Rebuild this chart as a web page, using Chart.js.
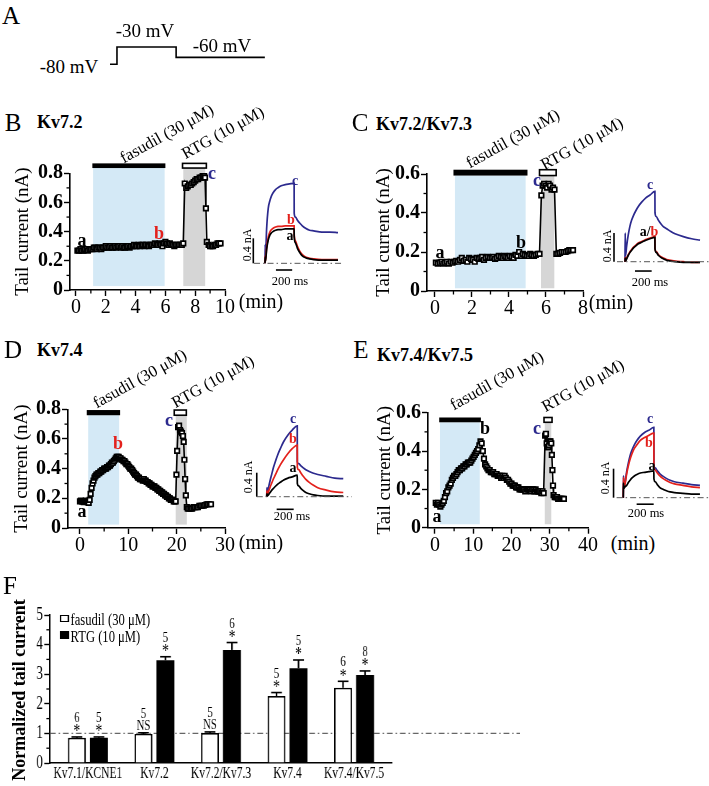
<!DOCTYPE html>
<html>
<head>
<meta charset="utf-8">
<script src="https://cdn.jsdelivr.net/npm/chart.js@4.4.1/dist/chart.umd.min.js"></script>
<style>
html,body{margin:0;padding:0;background:#fff;}
#page{position:relative;width:709px;height:786px;overflow:hidden;background:#fff;font-family:"Liberation Serif","Times New Roman",serif;color:#000;}
#page canvas{position:absolute;}
.t{position:absolute;white-space:nowrap;line-height:1;}
</style>
</head>
<body>
<div id="page"></div>
<script>
// ================= DATA =================
// Panel A: voltage protocol
const protoTime = [0, 20, 20, 190, 190, 445];
const protoVolt = [-80, -80, -30, -30, -60, -60];

// Panel B: Kv7.2 time course (min, nA)
const timeB = [
 0.1,0.2,0.3,0.4,0.5,0.6,0.7,0.8,0.9,1.0,
 1.1,1.2,1.3,1.4,1.5,1.6,1.7,1.8,1.9,2.0,
 2.1,2.2,2.3,2.4,2.5,2.6,2.7,2.8,2.9,3.0,
 3.1,3.2,3.3,3.4,3.5,3.6,3.7,3.8,3.9,4.0,
 4.1,4.2,4.3,4.4,4.5,4.6,4.7,4.8,4.9,5.0,
 5.1,5.2,5.3,5.4,5.5,5.6,5.7,5.8,5.9,6.0,
 6.1,6.2,6.3,6.4,6.5,6.6,6.7,6.8,6.9,7.0,
 7.1,7.2,
 7.3,7.4,7.5,7.6,7.7,7.8,7.9,8.0,8.1,8.2,
 8.3,8.4,8.5,8.6,8.66,8.72,8.78,8.9,9.0,9.1,
 9.2,9.3,9.4,9.5,9.6,9.7];
const currentB = [
 0.27,0.27,0.28,0.27,0.27,0.28,0.28,0.27,0.28,0.28,
 0.28,0.29,0.29,0.28,0.29,0.29,0.28,0.29,0.29,0.30,
 0.29,0.29,0.30,0.29,0.29,0.30,0.29,0.30,0.30,0.29,
 0.30,0.29,0.29,0.30,0.30,0.29,0.30,0.30,0.31,0.30,
 0.30,0.31,0.30,0.31,0.31,0.30,0.31,0.31,0.30,0.31,
 0.31,0.31,0.32,0.31,0.31,0.32,0.31,0.30,0.32,0.33,
 0.32,0.31,0.32,0.31,0.31,0.30,0.31,0.31,0.31,0.31,
 0.31,0.32,
 0.73,0.70,0.71,0.72,0.72,0.73,0.74,0.75,0.76,0.76,
 0.77,0.77,0.78,0.78,0.77,0.56,0.33,0.31,0.30,0.30,
 0.30,0.31,0.31,0.32,0.32,0.32];

// Panel C: Kv7.2/Kv7.3
const timeC = [
 0.05,0.15,0.25,0.35,0.45,0.55,0.65,0.75,0.85,0.95,
 1.05,1.15,1.25,1.35,1.45,1.55,1.65,1.75,1.85,1.95,
 2.05,2.15,2.25,2.35,2.45,2.55,2.65,2.75,2.85,2.95,
 3.05,3.15,3.25,3.35,3.45,3.55,3.65,3.75,3.85,3.95,
 4.05,4.15,4.25,4.35,4.45,4.55,4.65,4.75,4.85,4.95,
 5.05,5.15,5.25,5.35,5.45,5.55,5.65,
 5.75,5.82,5.9,5.98,6.06,6.14,6.22,6.3,6.38,6.46,
 6.56,6.66,6.76,6.86,6.96,7.06,7.16,7.26,7.36,7.46];
const currentC = [
 0.145,0.14,0.145,0.15,0.14,0.145,0.15,0.14,0.15,0.145,
 0.15,0.155,0.15,0.16,0.17,0.155,0.16,0.15,0.17,0.165,
 0.16,0.15,0.17,0.165,0.17,0.175,0.16,0.17,0.175,0.17,
 0.17,0.175,0.165,0.17,0.18,0.175,0.17,0.18,0.175,0.17,
 0.18,0.175,0.17,0.185,0.18,0.2,0.18,0.19,0.185,0.18,
 0.18,0.19,0.185,0.18,0.185,0.19,0.19,
 0.49,0.54,0.55,0.54,0.53,0.55,0.54,0.52,0.53,0.52,
 0.19,0.19,0.195,0.2,0.2,0.2,0.205,0.21,0.21,0.21];

// Panel D: Kv7.4
const timeD = [
 0.0,0.2,0.4,0.6,0.8,1.0,1.2,1.4,1.6,1.8,
 2.0,2.2,2.4,2.6,2.8,3.0,3.2,3.4,3.6,3.8,
 4.0,4.2,4.4,4.6,4.8,5.0,5.2,5.4,5.6,5.8,
 6.0,6.2,6.4,6.6,6.8,7.0,7.2,7.4,7.6,7.8,
 8.0,8.2,8.4,8.6,8.8,9.0,9.2,9.4,9.6,9.8,
 10.0,10.2,10.4,10.6,10.8,11.0,11.2,11.4,11.6,11.8,
 12.0,12.2,12.4,12.6,12.8,13.0,13.2,13.4,13.6,13.8,
 14.0,14.2,14.4,14.6,14.8,15.0,15.2,15.4,15.6,15.8,
 16.0,16.2,16.4,16.6,16.8,17.0,17.2,17.4,17.6,17.8,
 18.0,18.2,18.4,18.6,18.8,19.0,19.2,19.4,19.6,19.8,
 19.95,20.1,20.3,20.5,20.7,20.9,21.1,21.3,21.45,21.6,
 21.75,21.9,22.1,
 22.3,22.6,22.9,23.2,23.5,23.8,24.1,24.4,24.7,25.0,
 25.3,25.6,25.9,26.2,26.5,26.8,27.1];
const currentD = [
 0.18,0.185,0.18,0.18,0.175,0.18,0.185,0.18,0.175,0.17,
 0.19,0.23,0.27,0.30,0.32,0.34,0.35,0.36,0.36,0.37,
 0.37,0.38,0.38,0.39,0.39,0.40,0.40,0.40,0.41,0.41,
 0.42,0.42,0.43,0.44,0.44,0.45,0.46,0.47,0.48,0.48,
 0.48,0.47,0.47,0.46,0.46,0.45,0.45,0.44,0.43,0.43,
 0.42,0.41,0.40,0.40,0.39,0.38,0.37,0.36,0.36,0.35,
 0.34,0.34,0.33,0.33,0.33,0.32,0.33,0.32,0.32,0.31,
 0.31,0.30,0.30,0.29,0.29,0.28,0.28,0.28,0.27,0.27,
 0.26,0.26,0.25,0.25,0.24,0.24,0.23,0.23,0.22,0.22,
 0.21,0.21,0.20,0.20,0.19,0.19,0.19,0.18,0.18,0.18,
 0.36,0.52,0.68,0.69,0.66,0.65,0.64,0.62,0.58,0.46,
 0.33,0.22,0.14,
 0.13,0.13,0.13,0.13,0.14,0.14,0.14,0.14,0.15,0.15,
 0.15,0.15,0.155,0.16,0.16,0.16,0.16];

// Panel E: Kv7.4/Kv7.5
const timeE = [
 0.2,0.5,0.8,1.1,1.4,1.7,2.0,2.3,2.6,2.9,
 3.2,3.5,3.8,4.1,4.4,4.7,5.0,5.3,5.6,5.9,
 6.2,6.5,6.8,7.1,7.4,7.7,8.0,8.3,8.6,8.9,
 9.2,9.5,9.8,10.1,10.4,10.7,11.0,11.3,11.6,11.9,
 12.2,12.5,12.8,13.1,13.4,13.7,14.0,14.3,14.6,14.9,
 15.2,15.5,15.8,16.1,16.4,16.7,17.0,17.3,17.6,17.9,
 18.2,18.5,18.8,19.1,19.4,19.7,20.0,20.3,20.6,20.9,
 21.2,21.5,21.8,22.1,22.4,22.7,23.0,23.3,23.6,23.9,
 24.2,24.5,24.8,25.1,25.4,25.7,26.0,26.3,26.6,26.9,
 27.2,27.5,27.8,28.1,28.4,
 28.8,29.0,29.2,29.4,29.6,29.8,30.0,30.2,30.4,30.55,
 30.7,30.85,31.0,
 31.3,31.6,31.9,32.2,32.5,32.8,33.1,33.4,33.7];
const currentE = [
 0.13,0.12,0.13,0.12,0.11,0.12,0.13,0.14,0.16,0.18,
 0.19,0.21,0.22,0.23,0.25,0.26,0.27,0.27,0.28,0.29,
 0.30,0.30,0.31,0.31,0.32,0.32,0.33,0.33,0.34,0.34,
 0.34,0.35,0.36,0.37,0.38,0.39,0.40,0.41,0.43,0.45,
 0.44,0.40,0.36,0.33,0.32,0.31,0.30,0.30,0.29,0.29,
 0.29,0.28,0.28,0.28,0.27,0.27,0.27,0.26,0.27,0.26,
 0.27,0.26,0.25,0.25,0.24,0.23,0.23,0.22,0.22,0.22,
 0.21,0.21,0.21,0.20,0.20,0.20,0.20,0.20,0.19,0.20,
 0.20,0.20,0.20,0.19,0.20,0.20,0.19,0.20,0.19,0.19,
 0.19,0.19,0.18,0.19,0.18,
 0.48,0.49,0.44,0.42,0.42,0.43,0.45,0.45,0.44,0.38,
 0.30,0.22,0.17,
 0.16,0.16,0.16,0.15,0.15,0.15,0.15,0.15,0.15];

// Drug application periods (min)
const fasudilWinB = [1.15, 5.95], fasudilBarB = [1.1, 6.0], rtgWinB = [7.2, 8.67], rtgBarB = [7.15, 8.75];
const fasudilWinC = [1.08, 4.9], fasudilBarC = [1.0, 5.0], rtgWinC = [5.73, 6.45], rtgBarC = [5.65, 6.55];
const fasudilWinD = [1.7, 8.1], fasudilBarD = [1.4, 8.3], rtgWinD = [19.8, 22.1], rtgBarD = [19.5, 22.0];
const fasudilWinE = [1.3, 11.7], fasudilBarE = [1.1, 12.0], rtgWinE = [28.7, 30.4], rtgBarE = [28.5, 30.6];

// Tick labels
const xTicksB = [0,2,4,6,8,10], yTicksB = [0,0.2,0.4,0.6,0.8];
const xTicksC = [0,2,4,6,8], yTicksC = [0,0.2,0.4,0.6];
const xTicksD = [0,10,20,30], yTicksD = [0,0.2,0.4,0.6,0.8];
const xTicksE = [0,10,20,30,40], yTicksE = [0,0.2,0.4,0.6];

// Current traces (ms, nA)
const traceTime = [0,3,6,20,40,60,80,100,130,160,200,250,300,359,360,375,400,430,460,500,550,600,700,800,900];
const traceB_a = [0,0.10,0.03,0.22,0.37,0.45,0.49,0.51,0.53,0.54,0.54,0.55,0.55,0.55,0.43,0.33,0.24,0.17,0.12,0.09,0.07,0.06,0.05,0.05,0.05];
const traceB_b = [0,0.12,0.03,0.25,0.42,0.50,0.54,0.56,0.58,0.59,0.59,0.60,0.60,0.60,0.46,0.36,0.27,0.19,0.14,0.10,0.08,0.07,0.06,0.06,0.06];
const traceB_c = [0,0.30,0.10,0.55,0.88,1.00,1.08,1.13,1.18,1.21,1.24,1.26,1.27,1.28,0.80,0.74,0.69,0.64,0.60,0.56,0.53,0.52,0.50,0.50,0.49];
const traceC_a = [0,0.05,0.01,0.04,0.09,0.13,0.16,0.19,0.22,0.25,0.27,0.30,0.32,0.34,0.18,0.13,0.09,0.06,0.04,0.02,0.01,0.00,-0.01,-0.01,-0.01];
const traceC_b = [0,0.06,0.01,0.05,0.10,0.14,0.17,0.20,0.23,0.26,0.28,0.31,0.33,0.35,0.19,0.14,0.10,0.07,0.05,0.03,0.02,0.01,0.00,-0.01,-0.01];
const traceC_c = [0,0.40,0.08,0.22,0.38,0.50,0.58,0.64,0.71,0.77,0.83,0.89,0.93,0.98,0.68,0.63,0.58,0.53,0.49,0.46,0.42,0.39,0.35,0.32,0.30];
const traceD_a = [0,0.05,0.01,0.03,0.07,0.11,0.14,0.17,0.21,0.24,0.28,0.31,0.33,0.36,0.22,0.18,0.14,0.10,0.07,0.05,0.03,0.02,0.01,0.01,0.01];
const traceD_b = [0,0.10,0.02,0.08,0.16,0.23,0.30,0.36,0.45,0.53,0.62,0.72,0.80,0.86,0.49,0.45,0.40,0.34,0.29,0.24,0.19,0.15,0.11,0.08,0.07];
const traceD_c = [0,0.15,0.03,0.14,0.27,0.38,0.49,0.58,0.70,0.80,0.92,1.03,1.11,1.18,0.58,0.55,0.52,0.48,0.45,0.42,0.39,0.37,0.34,0.31,0.30];
const traceE_a = [0,0.20,0.13,0.15,0.17,0.21,0.24,0.27,0.30,0.32,0.34,0.35,0.36,0.37,0.26,0.22,0.18,0.14,0.12,0.10,0.08,0.07,0.06,0.05,0.05];
const traceE_b = [0,0.28,0.13,0.18,0.33,0.44,0.53,0.60,0.68,0.73,0.79,0.83,0.86,0.89,0.42,0.38,0.34,0.30,0.27,0.24,0.21,0.19,0.17,0.15,0.14];
const traceE_c = [0,0.30,0.15,0.20,0.36,0.48,0.58,0.65,0.73,0.79,0.85,0.90,0.93,0.97,0.45,0.41,0.37,0.33,0.30,0.27,0.24,0.22,0.20,0.18,0.17];
const scaleBarCurrent = 0.4;   // nA
const scaleBarTime = 200;      // ms

// Panel F: summary
const fCategories = ['Kv7.1/KCNE1','Kv7.2','Kv7.2/Kv7.3','Kv7.4','Kv7.4/Kv7.5'];
const fasudilMean = [0.85,0.98,1.01,2.26,2.54];
const fasudilErr  = [0.03,0.04,0.04,0.12,0.22];
const rtgMean     = [0.85,3.47,3.82,3.20,2.97];
const rtgErr      = [0.03,0.12,0.25,0.28,0.14];
const fasudilN    = ['6','5','5','5','6'];
const rtgN        = ['5','5','6','5','8'];
const fasudilSig  = ['*','NS','NS','*','*'];
const rtgSig      = ['*','*','*','*','*'];
const fTicks = [0,1,2,3,4,5];

// ================= RENDER =================
const FF = "'Liberation Serif','Times New Roman',serif";
const BLUE = '#2c2a8e', RED = '#e3211c', SHADE_BLUE = '#d4e9f6', SHADE_GRAY = '#d6d6d6';
Chart.defaults.font.family = FF;
Chart.defaults.color = '#000';
Chart.defaults.animation = false;
const page = document.getElementById('page');

function mkCanvas(parent, l, t, w, h) {
  const c = document.createElement('canvas');
  c.width = w; c.height = h;
  c.style.left = l + 'px'; c.style.top = t + 'px';
  c.style.width = w + 'px'; c.style.height = h + 'px';
  parent.appendChild(c);
  return c;
}
function txt(parent, s, x, y, o = {}) {
  const d = document.createElement('div');
  d.className = 't';
  if (o.html) d.innerHTML = s; else d.textContent = s;
  d.style.left = x + 'px'; d.style.top = y + 'px';
  d.style.fontSize = (o.size || 17) + 'px';
  if (o.bold) d.style.fontWeight = 'bold';
  if (o.color) d.style.color = o.color;
  const ax = o.align === 'left' ? '0' : '-50%';
  d.style.transform = `translate(${ax},-50%)` + (o.rot ? ` rotate(${o.rot}deg)` : '');
  parent.appendChild(d);
  return d;
}
function minorTicks(len) {
  return {
    id: 'minor',
    afterDraw(chart) {
      const ctx = chart.ctx, ca = chart.chartArea;
      ctx.save(); ctx.strokeStyle = '#000'; ctx.lineWidth = 1.3;
      ['x', 'y'].forEach(id => {
        const s = chart.scales[id];
        if (!s || s.options.display === false || s.options.noMinor) return;
        const tv = s.ticks.map(t => t.value);
        for (let i = 0; i < tv.length - 1; i++) {
          const p = s.getPixelForValue((tv[i] + tv[i + 1]) / 2);
          ctx.beginPath();
          if (id === 'x') { ctx.moveTo(p, ca.bottom); ctx.lineTo(p, ca.bottom + len); }
          else { ctx.moveTo(ca.left, p); ctx.lineTo(ca.left - len, p); }
          ctx.stroke();
        }
      });
      ctx.restore();
    }
  };
}

// ---- Panel A protocol ----
new Chart(mkCanvas(page, 105, 40, 165, 30), {
  type: 'line',
  data: { datasets: [{ data: protoTime.map((t, i) => ({ x: t, y: protoVolt[i] })), borderColor: '#000', borderWidth: 1.6, pointRadius: 0, tension: 0 }] },
  options: { responsive: false, events: [], layout: { padding: 0 },
    plugins: { legend: { display: false }, tooltip: { enabled: false } },
    scales: { x: { type: 'linear', display: false, min: -14.4, max: 459.8 }, y: { display: false, min: -96.5, max: -9.8 } } }
});

// ---- Time-course panels ----
function timeCourse(o) {
  const [L, T, W, H] = o.rect;
  const cv = mkCanvas(page, L, T, W, H);
  const yw = o.area[0] - L, padT = o.area[2] - T, padR = L + W - o.area[1], xh = T + H - o.area[3];
  const d = o.deco;
  const deco = {
    id: 'deco',
    beforeDatasetsDraw(chart) {
      const { ctx, scales: { x, y } } = chart;
      const X = v => x.getPixelForValue(v), Y = v => y.getPixelForValue(v);
      const yB = Y(d.shadeBottom), yL = Y(d.level[0]), yH = Y(d.level[1]);
      ctx.save();
      ctx.fillStyle = SHADE_BLUE; ctx.fillRect(X(d.fWin[0]), yL, X(d.fWin[1]) - X(d.fWin[0]), yB - yL);
      ctx.fillStyle = SHADE_GRAY; ctx.fillRect(X(d.rWin[0]), yL, X(d.rWin[1]) - X(d.rWin[0]), yB - yL);
      ctx.fillStyle = '#000'; ctx.fillRect(X(d.fBar[0]), yH, X(d.fBar[1]) - X(d.fBar[0]), yL - yH);
      const wx = X(d.rBar[0]), ww = X(d.rBar[1]) - wx;
      ctx.fillStyle = '#fff'; ctx.strokeStyle = '#000'; ctx.lineWidth = 1.6;
      ctx.fillRect(wx, yH, ww, yL - yH); ctx.strokeRect(wx, yH, ww, yL - yH);
      ctx.restore();
    }
  };
  new Chart(cv, {
    type: 'line',
    data: { datasets: [{
      data: o.t.map((t, i) => ({ x: t, y: o.v[i] })),
      borderColor: '#000', borderWidth: 1.6, tension: 0, clip: false,
      pointStyle: 'rect', pointRadius: 3.2, pointBackgroundColor: '#fff', pointBorderColor: '#000', pointBorderWidth: 1.7
    }] },
    options: {
      responsive: false, events: [],
      layout: { padding: { left: 0, top: padT, right: padR, bottom: 0 } },
      plugins: { legend: { display: false }, tooltip: { enabled: false } },
      scales: {
        x: { type: 'linear', min: o.x[0], max: o.x[1],
          afterBuildTicks: s => { s.ticks = o.xt.map(v => ({ value: v })); },
          afterFit: s => { s.height = xh; },
          grid: { drawOnChartArea: false, tickLength: 6, tickColor: '#000', tickWidth: 1.4 },
          border: { color: '#000', width: 1.6 },
          ticks: { font: { size: 20 }, color: '#000', padding: 0, maxRotation: 0, autoSkip: false, callback: v => String(v) } },
        y: { type: 'linear', min: o.y[0], max: o.y[1],
          afterBuildTicks: s => { s.ticks = o.yt.map(v => ({ value: v })); },
          afterFit: s => { s.width = yw; },
          grid: { drawOnChartArea: false, tickLength: 6, tickColor: '#000', tickWidth: 1.4 },
          border: { color: '#000', width: 1.6 },
          ticks: { font: { size: 20, weight: 'bold' }, color: '#000', padding: 1, autoSkip: false, callback: v => v === 0 ? '0' : v.toFixed(1) },
          title: { display: true, text: 'Tail current (nA)', font: { size: 19 }, color: '#000', padding: { top: o.titlePad } } }
      }
    },
    plugins: [deco, minorTicks(3.5)]
  });
}

timeCourse({ rect: [0, 150, 300, 170], area: [70, 225, 173.3, 290], x: [-0.4, 10], y: [0, 0.8], xt: xTicksB, yt: yTicksB, t: timeB, v: currentB, titlePad: 11.5,
  deco: { fWin: fasudilWinB, fBar: fasudilBarB, rWin: rtgWinB, rBar: rtgBarB, level: [0.836, 0.868], shadeBottom: 0.027 } });
timeCourse({ rect: [350, 150, 250, 170], area: [427, 583, 174, 291], x: [-0.43, 8], y: [0, 0.6], xt: xTicksC, yt: yTicksC, t: timeC, v: currentC, titlePad: 23,
  deco: { fWin: fasudilWinC, fBar: fasudilBarC, rWin: rtgWinC, rBar: rtgBarC, level: [0.592, 0.622], shadeBottom: 0.014 } });
timeCourse({ rect: [0, 385, 300, 170], area: [68, 225, 409.3, 528], x: [-2.48, 30], y: [0, 0.8], xt: xTicksD, yt: yTicksD, t: timeD, v: currentD, titlePad: 11,
  deco: { fWin: fasudilWinD, fBar: fasudilBarD, rWin: rtgWinD, rBar: rtgBarD, level: [0.76, 0.795], shadeBottom: 0.023 } });
timeCourse({ rect: [350, 385, 250, 170], area: [428, 588, 412.7, 527.7], x: [-1.83, 40], y: [0, 0.6], xt: xTicksE, yt: yTicksE, t: timeE, v: currentE, titlePad: 24,
  deco: { fWin: fasudilWinE, fBar: fasudilBarE, rWin: rtgWinE, rBar: rtgBarE, level: [0.55, 0.575], shadeBottom: 0.018 } });

// ---- Current-trace insets ----
function inset(o) {
  const cv = mkCanvas(page, ...o.rect);
  const line = (pts, color, w, dash) => ({ data: pts, borderColor: color, borderWidth: w, borderDash: dash || [], pointRadius: 0, tension: 0, clip: false });
  const ds = [];
  ds.push(line([{ x: o.base[0], y: 0 }, { x: o.base[1], y: 0 }], '#555', 1, [6, 3, 1.5, 3]));
  o.traces.forEach(tr => {
    const d = line(traceTime.map((t, i) => ({ x: t, y: tr.v[i] })), tr.c, 1.7);
    d.cubicInterpolationMode = 'monotone';
    ds.push(d);
  });
  ds.push(line([{ x: o.vbar, y: 0 }, { x: o.vbar, y: scaleBarCurrent }], '#000', 1.6));
  ds.push(line([{ x: o.hbar[0], y: o.hbar[1] }, { x: o.hbar[0] + scaleBarTime, y: o.hbar[1] }], '#000', 1.6));
  new Chart(cv, {
    type: 'line', data: { datasets: ds },
    options: { responsive: false, events: [], layout: { padding: 0 },
      plugins: { legend: { display: false }, tooltip: { enabled: false } },
      scales: { x: { type: 'linear', display: false, min: o.x[0], max: o.x[1] }, y: { display: false, min: o.y[0], max: o.y[1] } } }
  });
}
inset({ rect: [240, 172, 108, 105], x: [-308, 1023], y: [-0.219, 1.461], base: [-135, 960], vbar: -144, hbar: [135, -0.107],
  traces: [{ v: traceB_a, c: '#000' }, { v: traceB_b, c: RED }, { v: traceB_c, c: BLUE }] });
inset({ rect: [600, 180, 110, 100], x: [-300, 1020], y: [-0.255, 1.139], base: [-96, 1015], vbar: -132, hbar: [120, -0.13],
  traces: [{ v: traceC_a, c: '#000' }, { v: traceC_b, c: RED }, { v: traceC_c, c: BLUE }] });
inset({ rect: [240, 410, 115, 110], x: [-314, 1038], y: [-0.388, 1.445], base: [-117, 1000], vbar: -117, hbar: [117, -0.21],
  traces: [{ v: traceD_a, c: '#000' }, { v: traceD_b, c: RED }, { v: traceD_c, c: BLUE }] });
inset({ rect: [600, 410, 110, 110], x: [-273, 1018], y: [-0.308, 1.21], base: [-78, 1010], vbar: -114, hbar: [157, -0.09],
  traces: [{ v: traceE_a, c: '#000' }, { v: traceE_b, c: RED }, { v: traceE_c, c: BLUE }] });

// ---- Panel F (horizontally condensed type, as in the original) ----
const FS = 0.72;
const fWrap = document.createElement('div');
fWrap.style.cssText = `position:absolute;left:0;top:585px;width:760px;height:201px;transform:scaleX(${FS});transform-origin:0 0;`;
page.appendChild(fWrap);
const cvF = mkCanvas(fWrap, 0, 0, 760, 201);
const fDeco = {
  id: 'fdeco',
  beforeDatasetsDraw(chart) {
    const ctx = chart.ctx, y = chart.scales.y, ca = chart.chartArea;
    const py = y.getPixelForValue(1);
    ctx.save(); ctx.strokeStyle = '#666'; ctx.lineWidth = 1.1; ctx.setLineDash([8, 4, 2, 4]);
    ctx.beginPath(); ctx.moveTo(ca.left, py); ctx.lineTo(722, py); ctx.stroke();
    ctx.restore();
  },
  afterDatasetsDraw(chart) {
    const ctx = chart.ctx, y = chart.scales.y;
    const means = [fasudilMean, rtgMean], errs = [fasudilErr, rtgErr], ns = [fasudilN, rtgN], sig = [fasudilSig, rtgSig];
    ctx.save(); ctx.strokeStyle = '#000'; ctx.fillStyle = '#000'; ctx.textAlign = 'center'; ctx.textBaseline = 'alphabetic';
    [0, 1].forEach(di => {
      chart.getDatasetMeta(di).data.forEach((bar, i) => {
        const top = y.getPixelForValue(means[di][i] + errs[di][i]);
        const by = y.getPixelForValue(means[di][i]);
        ctx.lineWidth = 2.2; ctx.beginPath(); ctx.moveTo(bar.x, by); ctx.lineTo(bar.x, top); ctx.stroke();
        ctx.lineWidth = 1.6; ctx.beginPath(); ctx.moveTo(bar.x - 7.5, top); ctx.lineTo(bar.x + 7.5, top); ctx.stroke();
        const s = sig[di][i];
        if (s === '*') { ctx.font = `19px ${FF}`; ctx.fillText(s, bar.x, top + 0.5); }
        else { ctx.font = `15px ${FF}`; ctx.fillText(s, bar.x, top - 3); }
        ctx.font = `15px ${FF}`; ctx.fillText(ns[di][i], bar.x, top - 15);
      });
    });
    ctx.restore();
  }
};
new Chart(cvF, {
  type: 'bar',
  data: { datasets: [
    { label: 'fasudil (30 μM)', data: fasudilMean.map((v, i) => ({ x: i, y: v })), backgroundColor: '#fff', borderColor: '#000',
      borderWidth: { top: 1.6, left: 2.2, right: 2.2, bottom: 0 }, borderSkipped: false, categoryPercentage: 0.661, barPercentage: 0.817 },
    { label: 'RTG (10 μM)', data: rtgMean.map((v, i) => ({ x: i, y: v })), backgroundColor: '#000', borderColor: '#000',
      borderWidth: 0, categoryPercentage: 0.661, barPercentage: 0.817 }
  ] },
  options: {
    responsive: false, events: [],
    layout: { padding: { left: 0, top: 30, right: 215.6, bottom: 0 } },
    plugins: { legend: { display: false }, tooltip: { enabled: false } },
    scales: {
      x: { type: 'linear', min: -0.57, max: 4.57, offset: false, noMinor: true,
        afterBuildTicks: s => { s.ticks = fCategories.map((c, i) => ({ value: i })); },
        afterFit: s => { s.height = 23; },
        grid: { display: false, drawTicks: false },
        border: { display: true, color: '#000', width: 1.6 },
        ticks: { callback: v => fCategories[v], font: { size: 16 }, color: '#000', padding: 1, maxRotation: 0, autoSkip: false } },
      y: { type: 'linear', min: 0, max: 5,
        afterBuildTicks: s => { s.ticks = fTicks.map(v => ({ value: v })); },
        afterFit: s => { s.width = 69.4; },
        grid: { drawOnChartArea: false, tickLength: 8, tickColor: '#000', tickWidth: 1.4 },
        border: { color: '#000', width: 2.2 },
        ticks: { font: { size: 18 }, color: '#000', padding: 2, callback: v => String(v) } }
    }
  },
  plugins: [fDeco, minorTicks(5)]
});
// legend for F (inside condensed wrapper)
const lb1 = document.createElement('div');
lb1.style.cssText = 'position:absolute;left:83px;top:30px;width:9px;height:5px;border:1.6px solid #000;border-left-width:2.2px;border-right-width:2.2px;background:#fff;';
fWrap.appendChild(lb1);
const lb2 = document.createElement('div');
lb2.style.cssText = 'position:absolute;left:83px;top:46px;width:13px;height:8px;background:#000;';
fWrap.appendChild(lb2);
txt(fWrap, 'fasudil (30 μM)', 98, 35, { size: 17.5, align: 'left' });
txt(fWrap, 'RTG (10 μM)', 98, 52, { size: 17.5, align: 'left' });
txt(page, 'Normalized tail current', 19, 690, { size: 18, bold: true, rot: -90 });

// ---- Text labels ----
txt(page, 'A', 11, 15, { size: 25 });
txt(page, '-80 mV', 69, 66, { size: 19 });
txt(page, '-30 mV', 145, 30, { size: 19 });
txt(page, '-60 mV', 222, 45, { size: 19 });
txt(page, 'B', 13, 122, { size: 25 });
txt(page, 'C', 360, 122, { size: 25 });
txt(page, 'D', 13, 349, { size: 25 });
txt(page, 'E', 361, 349, { size: 25 });
txt(page, 'F', 10, 585, { size: 25 });
txt(page, 'Kv7.2', 37, 122, { size: 18, bold: true, align: 'left' });
txt(page, 'Kv7.2/Kv7.3', 376, 124, { size: 18, bold: true, align: 'left' });
txt(page, 'Kv7.4', 37, 350, { size: 18, bold: true, align: 'left' });
txt(page, 'Kv7.4/Kv7.5', 377, 355, { size: 18, bold: true, align: 'left' });
[[167, 134, 223, 133], [513, 139, 582, 144], [140, 379, 213, 382], [497, 381, 583, 386]].forEach(p => {
  txt(page, 'fasudil (30 μM)', p[0], p[1], { size: 16.5, rot: -29 });
  txt(page, 'RTG (10 μM)', p[2], p[3], { size: 16.5, rot: -29 });
});
[[261, 301], [611, 302], [261, 542], [633, 543]].forEach(p => txt(page, '(min)', p[0], p[1], { size: 20 }));
// time-course point labels
txt(page, 'a', 82, 240, { size: 18, bold: true });
txt(page, 'b', 159, 233, { size: 18, bold: true, color: RED });
txt(page, 'c', 212, 173, { size: 18, bold: true, color: BLUE });
txt(page, 'a', 440, 252, { size: 18, bold: true });
txt(page, 'b', 521, 242, { size: 18, bold: true });
txt(page, 'c', 537, 180, { size: 18, bold: true, color: BLUE });
txt(page, 'a', 82, 511, { size: 18, bold: true });
txt(page, 'b', 118, 443, { size: 18, bold: true, color: RED });
txt(page, 'c', 169, 420, { size: 18, bold: true, color: BLUE });
txt(page, 'a', 437, 516, { size: 18, bold: true });
txt(page, 'b', 485, 428, { size: 18, bold: true });
txt(page, 'c', 537, 428, { size: 18, bold: true, color: BLUE });
// trace labels
txt(page, 'c', 295, 181, { size: 14, bold: true, color: BLUE });
txt(page, 'b', 291, 220, { size: 14, bold: true, color: RED });
txt(page, 'a', 290, 236, { size: 14, bold: true });
txt(page, 'c', 650, 185, { size: 14, bold: true, color: BLUE });
txt(page, 'a/<span style="color:' + RED + '">b</span>', 649, 232, { size: 14, bold: true, html: true });
txt(page, 'c', 293, 419, { size: 14, bold: true, color: BLUE });
txt(page, 'b', 293, 439, { size: 14, bold: true, color: RED });
txt(page, 'a', 293, 468, { size: 14, bold: true });
txt(page, 'c', 650, 419, { size: 14, bold: true, color: BLUE });
txt(page, 'b', 649, 443, { size: 14, bold: true, color: RED });
txt(page, 'a', 652, 466, { size: 14, bold: true });
// scale bar labels
[[247, 245], [607, 246], [248, 477], [605, 478]].forEach(p => txt(page, '0.4 nA', p[0], p[1], { size: 12, rot: -90 }));
[[290, 281], [650, 282], [292, 516], [646, 513]].forEach(p => txt(page, '200 ms', p[0], p[1], { size: 12.5 }));
</script>
</body>
</html>
